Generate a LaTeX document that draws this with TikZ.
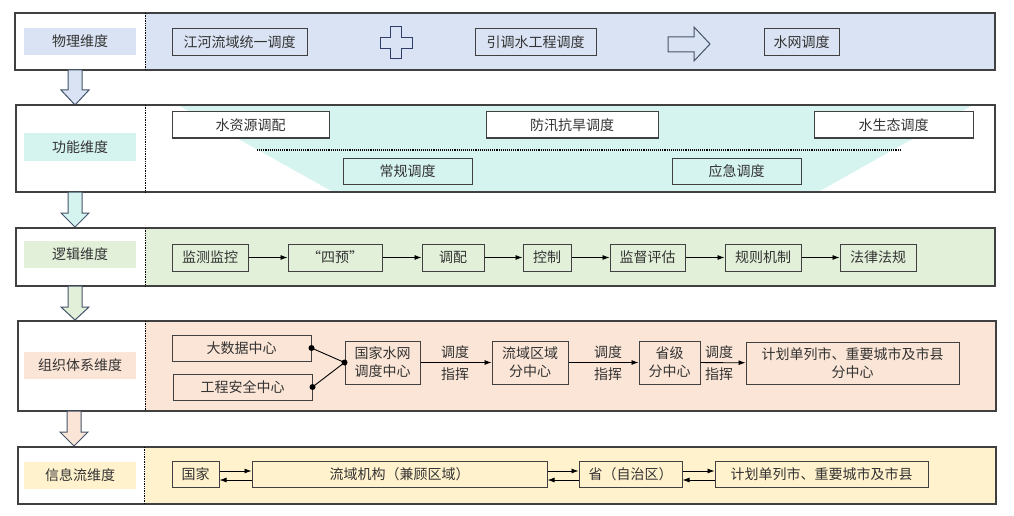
\documentclass[tikz,border=0pt]{standalone}
\usepackage{fontspec}
\setmainfont{Noto Sans CJK SC}
\usetikzlibrary{arrows.meta}
\definecolor{cblue}{HTML}{DAE3F3}
\definecolor{cteal}{HTML}{D5F3EF}
\definecolor{cgreen}{HTML}{E2F0D9}
\definecolor{cpeach}{HTML}{FBE5D6}
\definecolor{cyell}{HTML}{FFF2CC}
\definecolor{ctext}{HTML}{333333}
\definecolor{cline}{HTML}{404040}
\definecolor{cslate}{HTML}{44546A}
\definecolor{cnavy}{HTML}{2F3F6A}
\tikzset{
  every node/.style={font=\fontsize{14}{18}\selectfont, text=ctext},
  box/.style={draw=cline, line width=1pt, inner sep=0pt, align=center},
  lbl/.style={inner sep=0pt, minimum width=112pt, minimum height=27pt},
  outer/.style={draw=cline, line width=1.2pt},
  divider/.style={densely dotted, draw=black, line width=0.7pt},
  downarrow/.style={draw=cslate, line width=1pt, line join=miter},
  flow/.style={-{Latex[length=7pt,width=5pt]}, line width=0.8pt, draw=black},
  dot/.style={circle, fill=black, inner sep=0pt, minimum size=6pt},
}
\begin{document}
\begin{tikzpicture}[x=1pt,y=-1pt]
\useasboundingbox (0,0) rectangle (1014,516);

% ---------- Row 1: physical ----------
\fill[cblue] (145,13) rectangle (995,70);
\draw[outer] (15,13) rectangle (995,70);
\draw[divider] (145,13) -- (145,70);
\node[lbl, fill=cblue] (l1) at (80,41.5) {物理维度};
\node[box, minimum width=135pt, minimum height=27pt] (p1) at (239.5,42.5) {江河流域统一调度};
\draw[draw=cnavy, fill=cblue, line width=1pt]
  (390.5,27) -- (401.5,27) -- (401.5,37.5) -- (412,37.5) -- (412,48.5) -- (401.5,48.5)
  -- (401.5,59) -- (390.5,59) -- (390.5,48.5) -- (380,48.5) -- (380,37.5) -- (390.5,37.5) -- cycle;
\node[box, minimum width=121pt, minimum height=27pt] (p2) at (535.5,42.5) {引调水工程调度};
\draw[draw=cslate, fill=cblue, line width=1pt]
  (668,37) -- (694,37) -- (694,27) -- (710,44) -- (694,61) -- (694,52) -- (668,52) -- cycle;
\node[box, minimum width=75pt, minimum height=27pt] (p3) at (801.5,42.5) {水网调度};

% arrow 1
\draw[downarrow, fill=cblue] (68,70) -- (82,70) -- (82,90) -- (89,90) -- (75,105) -- (61,90) -- (68,90) -- cycle;

% ---------- Row 2: function ----------
\fill[cteal] (178,105) -- (973,105) -- (818,192) -- (333,192) -- cycle;
\draw[outer] (16,105) rectangle (995,192);
\draw[divider] (145,105) -- (145,192);
\node[lbl, fill=cteal] (l2) at (80,147) {功能维度};
\node[box, fill=white, minimum width=157pt, minimum height=26pt] (f1) at (250.5,125) {水资源调配};
\node[box, fill=white, minimum width=172pt, minimum height=26pt] (f2) at (572,125) {防汛抗旱调度};
\node[box, fill=white, minimum width=159pt, minimum height=26pt] (f3) at (893.5,125) {水生态调度};
\coordinate (d1) at (257,150);
\coordinate (d2) at (900,150);
\draw[densely dotted, line width=1.1pt, draw=black] (d1) -- (d2);
\node[box, fill=cteal, minimum width=129pt, minimum height=26pt] (f4) at (407.5,171) {常规调度};
\node[box, fill=cteal, minimum width=129pt, minimum height=26pt] (f5) at (736.5,171) {应急调度};

% arrow 2
\draw[downarrow, fill=cteal] (68,192) -- (82,192) -- (82,213) -- (89,213) -- (75,227) -- (61,213) -- (68,213) -- cycle;

% ---------- Row 3: logic ----------
\fill[cgreen] (145,228) rectangle (995,286);
\draw[outer] (16,228) rectangle (995,286);
\draw[divider] (145,228) -- (145,286);
\node[lbl, fill=cgreen] (l3) at (80,254.5) {逻辑维度};
\node[box, minimum width=76pt, minimum height=27pt] (g1) at (210,257.5) {监测监控};
\node[box, minimum width=94pt, minimum height=27pt] (g2) at (335,257.5) {“四预”};
\node[box, minimum width=62pt, minimum height=27pt] (g3) at (453,257.5) {调配};
\node[box, minimum width=48pt, minimum height=27pt] (g4) at (547,257.5) {控制};
\node[box, minimum width=75pt, minimum height=27pt] (g5) at (647.5,257.5) {监督评估};
\node[box, minimum width=76pt, minimum height=27pt] (g6) at (763,257.5) {规则机制};
\node[box, minimum width=76pt, minimum height=27pt] (g7) at (878,257.5) {法律法规};
\draw[flow] (g1) -- (g2);
\draw[flow] (g2) -- (g3);
\draw[flow] (g3) -- (g4);
\draw[flow] (g4) -- (g5);
\draw[flow] (g5) -- (g6);
\draw[flow] (g6) -- (g7);

% arrow 3
\draw[downarrow, fill=cgreen] (68,286) -- (82,286) -- (82,307) -- (89,307) -- (75,320) -- (61,307) -- (68,307) -- cycle;

% ---------- Row 4: organisation ----------
\fill[cpeach] (145,321) rectangle (996,411);
\draw[outer] (18,321) rectangle (996,411);
\draw[divider] (145,321) -- (145,411);
\node[lbl, fill=cpeach] (l4) at (80,365.5) {组织体系维度};
\node[box, minimum width=139pt, minimum height=26pt] (o1) at (241.5,348) {大数据中心};
\node[box, minimum width=139pt, minimum height=26pt] (o2) at (242.5,387) {工程安全中心};
\node[box, minimum width=75pt, minimum height=43pt] (o3) at (382.5,362.5) {国家水网\\调度中心};
\node[box, minimum width=76pt, minimum height=43pt] (o4) at (530,362.5) {流域区域\\分中心};
\node[box, minimum width=61pt, minimum height=43pt] (o5) at (669.5,362.5) {省级\\分中心};
\node[box, minimum width=213pt, minimum height=42pt] (o6) at (852.5,363) {计划单列市、重要城市及市县\\分中心};
\draw[line width=0.9pt] (o1.east) -- (o3.west);
\draw[line width=0.9pt] (o2.east) -- (o3.west);
\node[dot] (k1) at (o1.east) {};
\node[dot] (k2) at (o2.east) {};
\node[dot] (k3) at (o3.west) {};
\draw[flow] (o3) -- (o4);
\draw[flow] (o4) -- (o5);
\draw[flow] (o5) -- (o6);
\node (a1) at (455,352) {调度};
\node (b1) at (455,374) {指挥};
\node (a2) at (608,352) {调度};
\node (b2) at (608,374) {指挥};
\node (a3) at (719,352) {调度};
\node (b3) at (719,374) {指挥};

% arrow 4
\draw[downarrow, fill=cpeach] (67,411) -- (81,411) -- (81,432) -- (88,432) -- (74,446) -- (60,432) -- (67,432) -- cycle;

% ---------- Row 5: information flow ----------
\fill[cyell] (145,447) rectangle (996,504);
\draw[outer] (18,447) rectangle (996,504);
\draw[divider] (144,447) -- (144,504);
\node[lbl, fill=cyell] (l5) at (80,475.5) {信息流维度};
\node[box, minimum width=47pt, minimum height=26pt] (i1) at (195.5,474) {国家};
\node[box, minimum width=295pt, minimum height=26pt] (i2) at (399.5,474) {流域机构（兼顾区域）};
\node[box, minimum width=103pt, minimum height=26pt] (i3) at (630.5,474) {省（自治区）};
\node[box, minimum width=213pt, minimum height=26pt] (i4) at (821.5,474) {计划单列市、重要城市及市县};
\draw[flow] ([yshift=3pt]i1.east) -- ([yshift=3pt]i2.west);
\draw[flow] ([yshift=-6pt]i2.west) -- ([yshift=-6pt]i1.east);
\draw[flow] ([yshift=3pt]i2.east) -- ([yshift=3pt]i3.west);
\draw[flow] ([yshift=-6pt]i3.west) -- ([yshift=-6pt]i2.east);
\draw[flow] ([yshift=3pt]i3.east) -- ([yshift=3pt]i4.west);
\draw[flow] ([yshift=-6pt]i4.west) -- ([yshift=-6pt]i3.east);
\end{tikzpicture}
\end{document}
